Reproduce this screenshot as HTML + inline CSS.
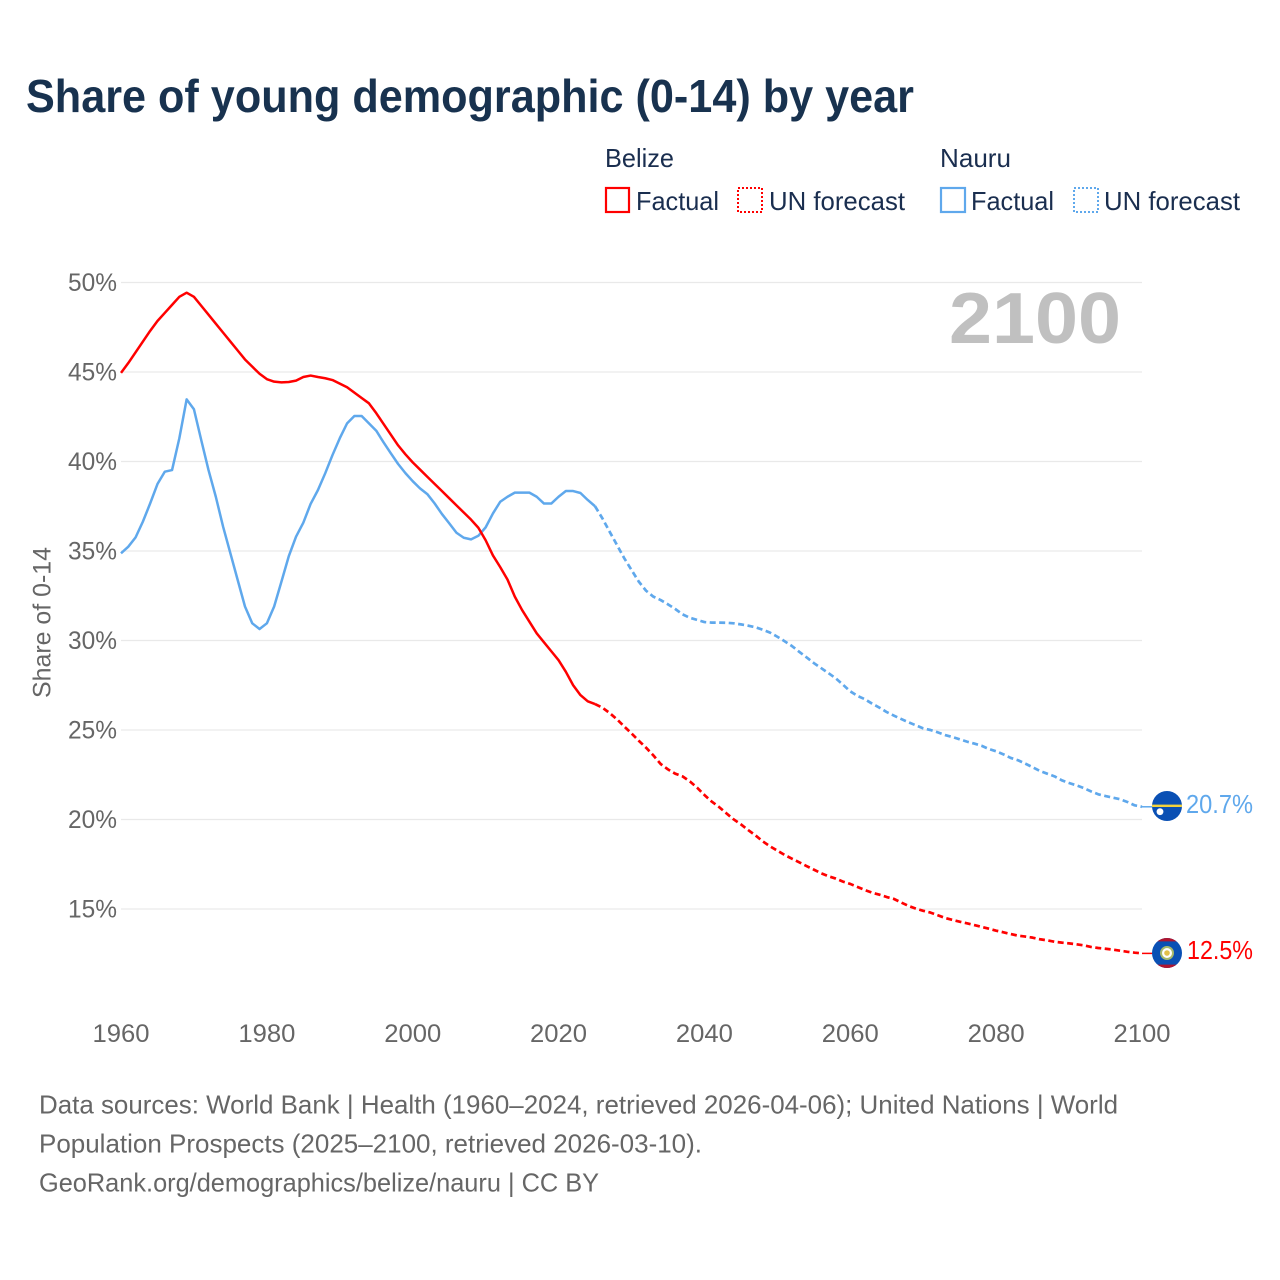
<!DOCTYPE html>
<html lang="en">
<head>
<meta charset="utf-8">
<title>Share of young demographic (0-14) by year</title>
<style>
html,body{margin:0;padding:0;background:#fff;}
svg{display:block;font-family:"Liberation Sans",sans-serif;}
.tick{font-size:25px;fill:#666;}
.leg{font-size:26px;fill:#1a2e4f;}
.foot{font-size:26px;fill:#666;}
</style>
</head>
<body>
<svg id="chart" xmlns="http://www.w3.org/2000/svg" width="1280" height="1280" viewBox="0 0 1280 1280">
  <rect x="0" y="0" width="1280" height="1280" fill="#ffffff"/>
  <text x="26" y="112" font-size="46" font-weight="700" fill="#18324f" textLength="888" lengthAdjust="spacingAndGlyphs">Share of young demographic (0-14) by year</text>

  <g>
    <text class="leg" x="605" y="167" textLength="69" lengthAdjust="spacingAndGlyphs">Belize</text>
    <text class="leg" x="940" y="167" textLength="71" lengthAdjust="spacingAndGlyphs">Nauru</text>
    <rect x="606" y="188" width="23" height="24" fill="none" stroke="#ff0000" stroke-width="2.2"/>
    <text class="leg" x="636" y="210" textLength="83" lengthAdjust="spacingAndGlyphs">Factual</text>
    <rect x="738" y="188" width="24" height="24" fill="none" stroke="#ff0000" stroke-width="2" stroke-dasharray="2 2"/>
    <text class="leg" x="769" y="210" textLength="136" lengthAdjust="spacingAndGlyphs">UN forecast</text>
    <rect x="941" y="188" width="24" height="24" fill="none" stroke="#5fa8ec" stroke-width="2.2"/>
    <text class="leg" x="971" y="210" textLength="83" lengthAdjust="spacingAndGlyphs">Factual</text>
    <rect x="1074" y="188" width="24" height="24" fill="none" stroke="#5fa8ec" stroke-width="2" stroke-dasharray="2 2"/>
    <text class="leg" x="1104" y="210" textLength="136" lengthAdjust="spacingAndGlyphs">UN forecast</text>
  </g>

  <g id="grid"></g>
  <g id="yticks"></g>
  <g id="xticks"></g>
  <text transform="translate(50.5,622.5) rotate(-90)" text-anchor="middle" font-size="25" fill="#666" textLength="151" lengthAdjust="spacingAndGlyphs">Share of 0-14</text>
  <text x="949" y="343" font-size="72" font-weight="700" fill="#c0c0c0" textLength="172" lengthAdjust="spacingAndGlyphs">2100</text>

  <g id="series"></g>

  <defs>
    <clipPath id="clip-nauru"><circle cx="1167" cy="806" r="15"/></clipPath>
    <clipPath id="clip-belize"><circle cx="1167" cy="953" r="15"/></clipPath>
  </defs>
  <g clip-path="url(#clip-nauru)">
    <rect x="1152" y="791" width="30" height="30" fill="#0a50b4"/>
    <rect x="1152" y="804.6" width="30" height="2.4" fill="#f2d23c"/>
    <circle cx="1160" cy="811.7" r="3.4" fill="#ffffff"/>
  </g>
  <g clip-path="url(#clip-belize)">
    <rect x="1152" y="938" width="30" height="30" fill="#0a50b4"/>
    <rect x="1152" y="938" width="30" height="3.4" fill="#b0152f"/>
    <rect x="1152" y="964.6" width="30" height="3.4" fill="#b0152f"/>
    <circle cx="1167" cy="953" r="6" fill="#ffffff" stroke="#a7b96b" stroke-width="2"/>
    <circle cx="1167" cy="953" r="2.8" fill="#e3c04a"/>
  </g>
  <text id="label-nauru" x="1186" y="813" font-size="26" fill="#5fa8ec" textLength="67" lengthAdjust="spacingAndGlyphs"></text>
  <text id="label-belize" x="1187" y="959" font-size="26" fill="#ff0000" textLength="66" lengthAdjust="spacingAndGlyphs"></text>

  <g>
    <text class="foot" x="39" y="1113.5" textLength="1079" lengthAdjust="spacingAndGlyphs">Data sources: World Bank | Health (1960–2024, retrieved 2026-04-06); United Nations | World</text>
    <text class="foot" x="39" y="1152.5" textLength="663" lengthAdjust="spacingAndGlyphs">Population Prospects (2025–2100, retrieved 2026-03-10).</text>
    <text class="foot" x="39" y="1191.5" textLength="560" lengthAdjust="spacingAndGlyphs">GeoRank.org/demographics/belize/nauru | CC BY</text>
  </g>
</svg>
<script>
const yTickValues = [50, 45, 40, 35, 30, 25, 20, 15];
const xTickYears = [1960, 1980, 2000, 2020, 2040, 2060, 2080, 2100];
const factualStartYear = 1960;
const forecastStartYear = 2025;
const belizeFactual = [44.95,45.5,46.1,46.7,47.3,47.85,48.3,48.75,49.2,49.43,49.2,48.7,48.2,47.7,47.2,46.7,46.2,45.7,45.3,44.9,44.6,44.46,44.42,44.44,44.52,44.72,44.8,44.72,44.65,44.55,44.35,44.15,43.85,43.55,43.25,42.7,42.1,41.5,40.9,40.4,39.95,39.55,39.15,38.75,38.35,37.95,37.55,37.15,36.75,36.3,35.6,34.75,34.1,33.4,32.45,31.7,31.05,30.4,29.9,29.4,28.9,28.25,27.5,26.95,26.6,26.45];
const belizeForecast = [26.45,26.25,25.95,25.6,25.2,24.81,24.4,24.01,23.58,23.1,22.8,22.56,22.41,22.13,21.78,21.37,21.0,20.7,20.35,20.01,19.73,19.41,19.11,18.78,18.5,18.26,18.02,17.81,17.61,17.4,17.2,17.0,16.83,16.7,16.53,16.4,16.23,16.06,15.91,15.8,15.67,15.56,15.36,15.17,15.02,14.9,14.8,14.65,14.5,14.39,14.29,14.2,14.1,14.0,13.9,13.79,13.7,13.6,13.51,13.46,13.4,13.31,13.25,13.17,13.12,13.08,13.03,12.97,12.88,12.82,12.78,12.73,12.67,12.61,12.56,12.52];
const nauruFactual = [34.87,35.24,35.76,36.64,37.66,38.74,39.43,39.52,41.3,43.47,42.92,41.2,39.52,38.03,36.36,34.87,33.38,31.9,30.96,30.64,30.96,31.9,33.29,34.7,35.8,36.58,37.63,38.4,39.34,40.36,41.3,42.13,42.54,42.54,42.13,41.72,41.07,40.46,39.86,39.35,38.9,38.5,38.18,37.66,37.07,36.55,36.02,35.74,35.65,35.85,36.32,37.1,37.75,38.03,38.26,38.26,38.26,38.03,37.65,37.65,38.03,38.35,38.35,38.24,37.85,37.5];
const nauruForecast = [37.5,36.83,36.08,35.34,34.6,33.94,33.29,32.78,32.45,32.26,32.02,31.76,31.46,31.27,31.15,31.03,31.0,31.0,30.99,30.96,30.9,30.83,30.74,30.6,30.44,30.21,29.96,29.69,29.37,29.06,28.74,28.46,28.18,27.89,27.53,27.16,26.9,26.72,26.47,26.25,26.0,25.8,25.61,25.43,25.26,25.09,25.0,24.87,24.72,24.61,24.48,24.35,24.24,24.12,23.94,23.81,23.64,23.44,23.31,23.12,22.92,22.71,22.56,22.41,22.19,22.04,21.91,21.76,21.57,21.41,21.31,21.22,21.13,20.98,20.79,20.71];

const NS = 'http://www.w3.org/2000/svg';
function xScale(year) { return 121 + (year - 1960) * (1142 - 121) / 140; }
function yScale(v) { return 282.5 + (50 - v) * 17.9; }

const grid = document.getElementById('grid');
const yticks = document.getElementById('yticks');
const xticks = document.getElementById('xticks');
const series = document.getElementById('series');

yTickValues.forEach(function (v) {
  const line = document.createElementNS(NS, 'line');
  
  
  line.setAttribute('x1', xScale(1960));
  line.setAttribute('x2', xScale(2100));
  line.setAttribute('y1', yScale(v));
  line.setAttribute('y2', yScale(v));
  line.setAttribute('stroke', '#e9e9e9');
  line.setAttribute('stroke-width', '1.3');
  grid.appendChild(line);
  const t = document.createElementNS(NS, 'text');
  
  
  t.setAttribute('class', 'tick');
  t.setAttribute('x', 68);
  t.setAttribute('y', yScale(v) + 8.5);
  t.setAttribute('textLength', '49');
  t.setAttribute('lengthAdjust', 'spacingAndGlyphs');
  t.textContent = v + '%';
  yticks.appendChild(t);
});

xTickYears.forEach(function (yr) {
  const t = document.createElementNS(NS, 'text');
  
  
  t.setAttribute('class', 'tick');
  t.setAttribute('x', xScale(yr));
  t.setAttribute('y', 1042);
  t.setAttribute('text-anchor', 'middle');
  t.setAttribute('textLength', '57');
  t.setAttribute('lengthAdjust', 'spacingAndGlyphs');
  t.textContent = yr;
  xticks.appendChild(t);
});

function pathFor(values, startYear) {
  return values.map(function (v, i) {
    return (i ? 'L' : 'M') + xScale(startYear + i).toFixed(2) + ' ' + yScale(v).toFixed(2);
  }).join(' ');
}

function drawLine(d, color, width, dashed, name) {
  const p = document.createElementNS(NS, 'path');
  
  
  p.setAttribute('d', d);
  p.setAttribute('fill', 'none');
  p.setAttribute('stroke', color);
  p.setAttribute('stroke-width', width);
  p.setAttribute('stroke-linejoin', 'round');
  if (dashed) p.setAttribute('stroke-dasharray', '6 3.5');
  series.appendChild(p);
}

drawLine(pathFor(nauruFactual, factualStartYear), '#5fa8ec', '2.5', false, 'nauru-factual-line');
drawLine(pathFor(nauruForecast, forecastStartYear), '#5fa8ec', '2.7', true, 'nauru-forecast-line');
drawLine(pathFor(belizeFactual, factualStartYear), '#ff0000', '2.5', false, 'belize-factual-line');
drawLine(pathFor(belizeForecast, forecastStartYear), '#ff0000', '2.7', true, 'belize-forecast-line');

const nauruEnd = nauruForecast[nauruForecast.length - 1];
const belizeEnd = belizeForecast[belizeForecast.length - 1];
drawLine('M' + xScale(2100) + ' ' + yScale(nauruEnd) + ' L1155 ' + yScale(nauruEnd), '#5fa8ec', '1.5', false, 'nauru-marker-connector');
drawLine('M' + xScale(2100) + ' ' + yScale(belizeEnd) + ' L1155 ' + yScale(belizeEnd), '#ff0000', '1.5', false, 'belize-marker-connector');
document.getElementById('label-nauru').textContent = nauruEnd.toFixed(1) + '%';
document.getElementById('label-belize').textContent = belizeEnd.toFixed(1) + '%';
</script>
</body>
</html>
